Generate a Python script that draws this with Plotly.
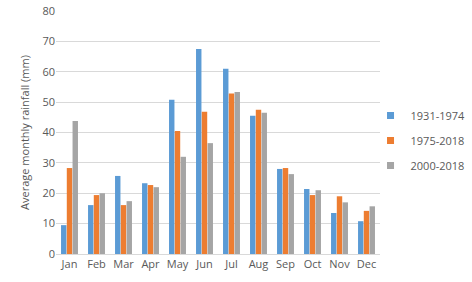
import plotly.graph_objects as go

months = ["Jan", "Feb", "Mar", "Apr", "May", "Jun", "Jul", "Aug", "Sep", "Oct", "Nov", "Dec"]
p1931_1974 = [9.5, 16.1, 25.7, 23.3, 50.8, 67.5, 61.0, 45.5, 28.0, 21.4, 13.5, 10.8]
p1975_2018 = [28.3, 19.4, 16.1, 22.7, 40.5, 46.8, 52.8, 47.5, 28.3, 19.4, 19.0, 14.2]
p2000_2018 = [43.8, 20.0, 17.4, 22.0, 32.0, 36.5, 53.3, 46.5, 26.3, 21.0, 17.0, 15.7]

series = [
    ("1931-1974", p1931_1974, "#5B9BD5"),
    ("1975-2018", p1975_2018, "#ED7D31"),
    ("2000-2018", p2000_2018, "#A5A5A5"),
]

fig = go.Figure()
for name, vals, color in series:
    fig.add_trace(go.Bar(x=months, y=vals, name=name, marker_color=color,
                         marker_line_width=0, showlegend=False))
# legend entries with small square symbols
for name, vals, color in series:
    fig.add_trace(go.Scatter(x=[None], y=[None], mode="markers", name=name,
                             legendgroup=name,
                             marker=dict(symbol="square", size=7, color=color)))

font_family = "Open Sans, Liberation Sans, sans-serif"
fig.update_layout(
    width=472, height=282,
    margin=dict(l=56, r=92, t=11, b=28, autoexpand=False),
    paper_bgcolor="white", plot_bgcolor="white",
    barmode="group", bargap=0.36, bargroupgap=0.06,
    font=dict(family=font_family, size=11, color="#595959"),
    showlegend=True,
    legend=dict(xref="container", yref="container", x=0.785, y=0.502,
                xanchor="left", yanchor="middle",
                font=dict(size=11, color="#595959"), itemwidth=30,
                tracegroupgap=6, bgcolor="rgba(0,0,0,0)"),
    xaxis=dict(showgrid=False, showline=True, linecolor="#D9D9D9", linewidth=1,
               ticks="", automargin=False, tickfont=dict(size=11, color="#595959")),
    yaxis=dict(range=[0, 80], dtick=10, showgrid=True, gridcolor="#D9D9D9", gridwidth=1,
               zeroline=False, showline=False, ticks="", ticklen=0, automargin=False,
               tickfont=dict(size=11, color="#595959"),
               title=dict(text="Average monthly rainfall (mm)", font=dict(size=11, color="#595959"), standoff=10)),
)

fig.write_html("out.html")
